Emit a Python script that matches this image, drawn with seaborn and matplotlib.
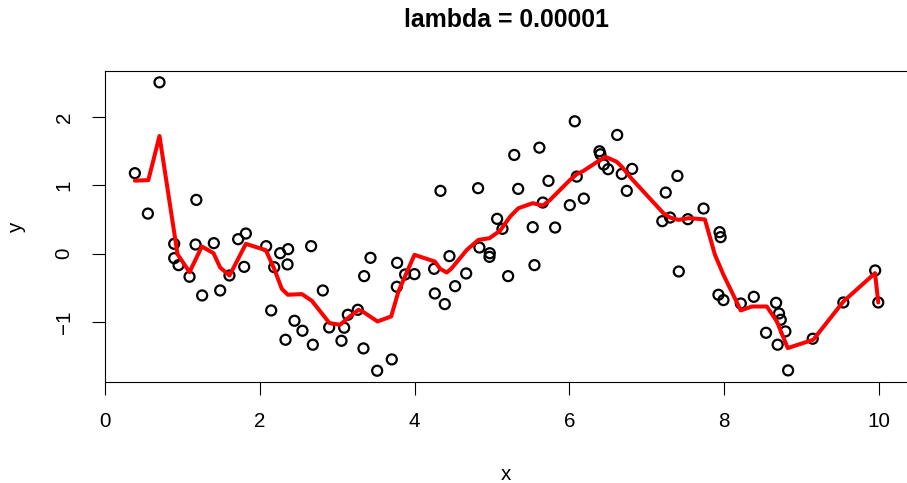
import numpy as np
import pandas as pd
import matplotlib
matplotlib.use("Agg")
import matplotlib.pyplot as plt
import seaborn as sns

# Observed points
x_obs = [0.386, 0.554, 0.704, 0.894, 0.894, 0.95, 1.092, 1.18, 1.17, 1.255,
         1.406, 1.488, 1.608, 1.72, 1.82, 1.798, 2.082, 2.147, 2.186, 2.263,
         2.366, 2.358, 2.332, 2.448, 2.551, 2.663, 2.685,
         2.814, 2.896, 3.09, 3.055, 3.137, 3.266, 3.339, 3.348, 3.43, 3.516,
         3.705, 3.774, 3.77, 3.877, 3.998, 4.261, 4.252, 4.334, 4.39, 4.45,
         4.523, 4.666, 4.82, 4.837, 4.971, 4.967, 5.066, 5.135, 5.208,
         5.287, 5.338, 5.526, 5.548, 5.612, 5.656, 5.729, 5.815, 6.005, 6.069,
         6.095, 6.186, 6.388, 6.4, 6.444, 6.5, 6.617, 6.676, 6.741, 6.81,
         7.2, 7.244, 7.3, 7.395, 7.413, 7.53, 7.733,
         7.94, 7.953, 7.925, 7.99, 8.214, 8.382, 8.54, 8.67, 8.708, 8.73,
         8.79, 8.69, 8.825, 9.143, 9.539, 9.95, 9.99]
y_obs = [1.177, 0.585, 2.508, 0.142, -0.068, -0.17, -0.34, 0.786, 0.132, -0.614,
         0.152, -0.541, -0.322, 0.21, 0.293, -0.195, 0.108, -0.834, -0.2, 0.005,
         0.064, -0.16, -1.263, -0.985, -1.131, 0.108, -1.336,
         -0.541, -1.083, -1.087, -1.278, -0.897, -0.824, -1.39, -0.331, -0.063, -1.717,
         -1.551, -0.136, -0.487, -0.307, -0.302, -0.585, -0.224, 0.918, -0.741, -0.038,
         -0.478, -0.292, 0.957, 0.088, 0.005, -0.049, 0.508, 0.362, -0.331,
         1.444, 0.947, 0.386, -0.17, 1.551, 0.747, 1.064, 0.381, 0.708, 1.937,
         1.127, 0.805, 1.498, 1.454, 1.303, 1.235, 1.737, 1.166, 0.918, 1.24,
         0.474, 0.893, 0.527, 1.137, -0.263, 0.503, 0.659,
         0.313, 0.24, -0.604, -0.682, -0.732, -0.634, -1.161, -0.722, -0.878, -0.97,
         -1.141, -1.336, -1.712, -1.248, -0.717, -0.248, -0.717]

# Fitted smoothing-spline curve
x_fit = [0.386, 0.56, 0.704, 0.937, 1.092, 1.251, 1.402, 1.488, 1.608, 1.725,
         1.82, 2.078, 2.186, 2.284, 2.362, 2.543, 2.672, 2.9, 3.038, 3.137,
         3.275, 3.34, 3.52, 3.697, 3.791, 3.998, 4.261, 4.33, 4.416, 4.48,
         4.675, 4.824, 4.967, 5.104, 5.234, 5.34, 5.526, 5.656, 5.75, 6.008,
         6.095, 6.18, 6.396, 6.47, 6.608, 6.676, 6.806, 7.214, 7.3, 7.408,
         7.542, 7.75, 7.88, 7.99, 8.214, 8.356, 8.55, 8.68, 8.82, 9.15,
         9.54, 9.948, 9.99]
y_fit = [1.068, 1.075, 1.722, -0.01, -0.273, 0.103, 0.005, -0.205, -0.322, -0.068,
         0.142, 0.049, -0.224, -0.517, -0.604, -0.594, -0.692, -1.019, -1.043, -0.946,
         -0.824, -0.858, -0.995, -0.922, -0.556, -0.019, -0.117, -0.224, -0.278, -0.214,
         0.054, 0.2, 0.225, 0.335, 0.541, 0.664, 0.738, 0.702, 0.786, 1.079,
         1.162, 1.21, 1.371, 1.415, 1.346, 1.273, 1.093, 0.591, 0.527, 0.493,
         0.518, 0.5, -0.019, -0.312, -0.834, -0.776, -0.776, -0.995, -1.385, -1.263,
         -0.702, -0.287, -0.717]

x_ticks = [0, 2, 4, 6, 8, 10]
y_ticks = [-1, 0, 1, 2]

pts = pd.DataFrame({"x": x_obs, "y": y_obs})
fit = pd.DataFrame({"x": x_fit, "y": y_fit})

sns.set_style("ticks")
plt.rcParams["font.family"] = ["Liberation Sans", "DejaVu Sans"]
plt.rcParams.update({
    "text.color": "black",
    "axes.labelcolor": "black",
    "xtick.color": "black",
    "ytick.color": "black",
    "axes.edgecolor": "black",
})

W, H, DPI = 907, 483, 100
fig = plt.figure(figsize=(W / DPI, H / DPI), dpi=DPI)
ax = fig.add_axes([105 / W, (H - 382) / H, (908 - 105) / W, (382 - 71) / H])

sns.scatterplot(data=pts, x="x", y="y", ax=ax, marker="o", s=52,
                facecolor="none", edgecolor="black", linewidth=1.6, zorder=3)
sns.lineplot(data=fit, x="x", y="y", ax=ax, sort=False, estimator=None,
             color="red", linewidth=2.9, zorder=4)

ax.set_xlim(0.002, 10.374)
ax.set_ylim(-1.882, 2.674)
ax.set_xticks(x_ticks)
ax.set_yticks(y_ticks)
ax.set_xticklabels([str(t) for t in x_ticks], fontsize=14.9, color="black")
ax.set_yticklabels(["\u22121" if t < 0 else str(t) for t in y_ticks],
                   fontsize=14.9, rotation=90, va="center", color="black")
ax.tick_params(axis="both", length=9.5, width=0.8, color="black")
ax.tick_params(axis="x", pad=12)
ax.tick_params(axis="y", pad=13)
ax.set_xlabel("")
ax.set_ylabel("")
for s in ax.spines.values():
    s.set_color("black")
    s.set_linewidth(0.8)

fig.text(506 / W, 1 - 20 / H, "lambda = 0.00001", ha="center", va="center",
         fontsize=17.9, fontweight="bold", color="black")
fig.text(506 / W, 1 - 475 / H, "x", ha="center", va="center", fontsize=14.9,
         color="black")
fig.text(17 / W, 1 - 226.5 / H, "y", ha="center", va="center", fontsize=14.9,
         rotation=90, color="black")

fig.savefig("out.png", dpi=DPI)
